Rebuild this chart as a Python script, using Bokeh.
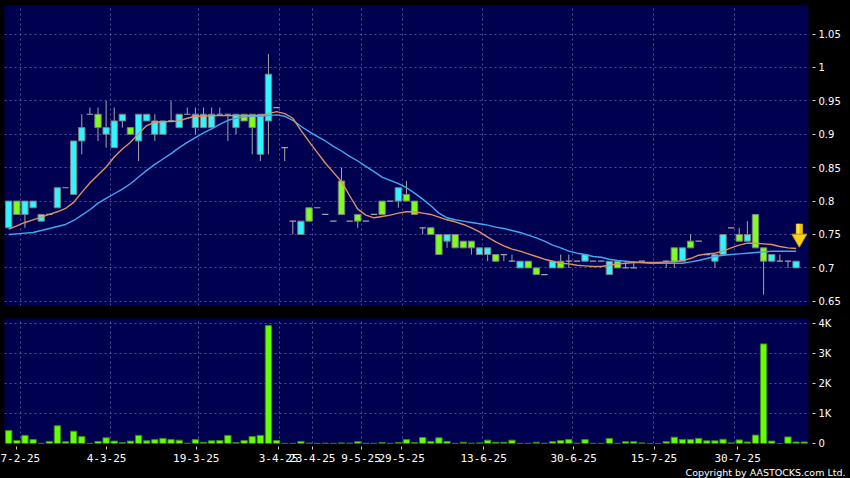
import numpy as np
from bokeh.plotting import figure
from bokeh.layouts import column
from bokeh.models import FixedTicker, Range1d, Title
from bokeh.embed import file_html
from bokeh.resources import INLINE

# ---------------- data ----------------
opens = [0.76, 0.80, 0.78, 0.79, 0.77, 0.78, 0.79, 0.82, 0.81, 0.89,
         0.93, 0.93, 0.90, 0.88, 0.92, 0.91, 0.89, 0.92, 0.90, 0.90,
         0.92, 0.91, 0.93, 0.91, 0.91, 0.91, 0.93, 0.93, 0.91, 0.93,
         0.93, 0.87, 0.92, 0.94, 0.88, 0.77, 0.75, 0.79, 0.79, 0.78,
         0.77, 0.83, 0.77, 0.78, 0.77, 0.78, 0.80, 0.80, 0.80, 0.81,
         0.80, 0.76, 0.76, 0.75, 0.74, 0.75, 0.74, 0.74, 0.72, 0.72,
         0.72, 0.72, 0.71, 0.70, 0.71, 0.70, 0.69, 0.70, 0.71, 0.71,
         0.71, 0.71, 0.71, 0.71, 0.69, 0.71, 0.70, 0.70, 0.71, None,
         None, 0.71, 0.73, 0.71, 0.74, 0.74, 0.72, 0.71, 0.72, 0.76,
         0.75, 0.74, 0.78, 0.73, 0.71, 0.71, 0.71, 0.70, None]
highs = [0.80, 0.80, 0.80, 0.80, 0.78, 0.78, 0.82, 0.82, 0.89, 0.93,
         0.94, 0.94, 0.95, 0.94, 0.93, 0.91, 0.93, 0.93, 0.93, 0.92,
         0.95, 0.93, 0.94, 0.94, 0.94, 0.94, 0.94, 0.93, 0.93, 0.93,
         0.93, 0.93, 1.02, 0.94, 0.88, 0.77, 0.77, 0.79, 0.79, 0.78,
         0.77, 0.85, 0.77, 0.78, 0.77, 0.78, 0.80, 0.80, 0.82, 0.83,
         0.80, 0.76, 0.76, 0.75, 0.75, 0.75, 0.74, 0.74, 0.73, 0.73,
         0.72, 0.72, 0.72, 0.71, 0.71, 0.70, 0.69, 0.71, 0.72, 0.72,
         0.71, 0.72, 0.71, 0.71, 0.71, 0.71, 0.71, 0.71, 0.71, None,
         None, 0.71, 0.73, 0.73, 0.75, 0.74, 0.72, 0.72, 0.75, 0.76,
         0.76, 0.77, 0.78, 0.73, 0.72, 0.72, 0.71, 0.71, None]
lows = [0.76, 0.78, 0.76, 0.79, 0.77, 0.78, 0.79, 0.82, 0.81, 0.87,
        0.93, 0.89, 0.88, 0.88, 0.91, 0.90, 0.86, 0.92, 0.89, 0.90,
        0.92, 0.91, 0.93, 0.90, 0.91, 0.91, 0.93, 0.89, 0.90, 0.92,
        0.87, 0.86, 0.87, 0.94, 0.86, 0.75, 0.75, 0.77, 0.79, 0.78,
        0.77, 0.78, 0.77, 0.76, 0.77, 0.78, 0.78, 0.80, 0.79, 0.80,
        0.78, 0.75, 0.75, 0.72, 0.73, 0.73, 0.73, 0.72, 0.72, 0.71,
        0.71, 0.71, 0.71, 0.70, 0.70, 0.69, 0.69, 0.70, 0.70, 0.70,
        0.71, 0.71, 0.71, 0.71, 0.69, 0.70, 0.70, 0.70, 0.71, None,
        None, 0.70, 0.70, 0.71, 0.73, 0.74, 0.72, 0.70, 0.72, 0.76,
        0.74, 0.74, 0.73, 0.66, 0.71, 0.71, 0.70, 0.70, None]
closes = [0.80, 0.78, 0.80, 0.80, 0.78, 0.78, 0.82, 0.82, 0.89, 0.91,
          0.93, 0.91, 0.91, 0.92, 0.93, 0.90, 0.93, 0.93, 0.92, 0.92,
          0.92, 0.93, 0.93, 0.93, 0.93, 0.93, 0.93, 0.93, 0.93, 0.92,
          0.91, 0.93, 0.99, 0.94, 0.88, 0.77, 0.77, 0.77, 0.79, 0.78,
          0.77, 0.78, 0.77, 0.77, 0.77, 0.78, 0.78, 0.80, 0.82, 0.80,
          0.78, 0.76, 0.75, 0.72, 0.75, 0.73, 0.73, 0.73, 0.73, 0.73,
          0.71, 0.72, 0.71, 0.71, 0.70, 0.69, 0.69, 0.71, 0.70, 0.71,
          0.71, 0.72, 0.71, 0.71, 0.71, 0.70, 0.70, 0.70, 0.71, None,
          None, 0.71, 0.71, 0.73, 0.73, 0.74, 0.72, 0.72, 0.75, 0.76,
          0.74, 0.75, 0.73, 0.71, 0.72, 0.71, 0.71, 0.71, None]
volumes = [430, 100, 270, 130, 5, 70, 590, 60, 410, 230,
           5, 70, 190, 80, 30, 80, 270, 90, 130, 170,
           130, 110, 10, 130, 40, 90, 100, 270, 30, 100,
           230, 270, 3930, 100, 5, 5, 70, 10, 5, 10,
           5, 20, 10, 60, 5, 5, 30, 5, 30, 130,
           30, 200, 70, 190, 70, 5, 40, 10, 20, 110,
           40, 40, 110, 5, 5, 40, 10, 60, 100, 130,
           10, 130, 5, 5, 170, 5, 60, 60, 20, 0,
           0, 60, 210, 130, 130, 170, 90, 90, 140, 20,
           120, 50, 280, 3320, 80, 0, 220, 50, 50]
ma_short = [0.758, 0.763, 0.768, 0.772, 0.776, 0.780, 0.784, 0.789, 0.798, 0.813,
            0.827, 0.839, 0.851, 0.866, 0.878, 0.888, 0.901, 0.913, 0.918, 0.919,
            0.919, 0.920, 0.924, 0.927, 0.927, 0.928, 0.928, 0.928, 0.928, 0.928,
            0.928, 0.928, 0.931, 0.934, 0.931, 0.924, 0.906, 0.889, 0.873, 0.857,
            0.843, 0.829, 0.808, 0.788, 0.779, 0.775, 0.777, 0.779, 0.782, 0.784,
            0.784, 0.782, 0.780, 0.776, 0.772, 0.769, 0.765, 0.760, 0.754, 0.746,
            0.739, 0.733, 0.728, 0.725, 0.721, 0.717, 0.713, 0.710, 0.707, 0.706,
            0.704, 0.703, 0.702, 0.702, 0.704, 0.706, 0.707, 0.708, 0.708, 0.708,
            0.708, 0.709, 0.709, 0.711, 0.714, 0.719, 0.721, 0.722, 0.725, 0.730,
            0.734, 0.737, 0.737, 0.736, 0.735, 0.732, 0.730, 0.729, None]
ma_long = [0.750, 0.751, 0.752, 0.753, 0.756, 0.759, 0.762, 0.765, 0.771, 0.779,
           0.787, 0.797, 0.804, 0.811, 0.818, 0.826, 0.836, 0.846, 0.855, 0.863,
           0.871, 0.880, 0.888, 0.895, 0.902, 0.908, 0.915, 0.921, 0.924, 0.926,
           0.927, 0.927, 0.928, 0.929, 0.927, 0.921, 0.912, 0.904, 0.897, 0.890,
           0.882, 0.875, 0.867, 0.860, 0.852, 0.844, 0.836, 0.831, 0.826, 0.820,
           0.812, 0.803, 0.793, 0.782, 0.775, 0.772, 0.770, 0.768, 0.766, 0.764,
           0.761, 0.759, 0.756, 0.753, 0.749, 0.745, 0.740, 0.734, 0.730, 0.725,
           0.722, 0.720, 0.717, 0.716, 0.713, 0.711, 0.710, 0.709, 0.708, 0.707,
           0.707, 0.707, 0.707, 0.707, 0.709, 0.711, 0.714, 0.717, 0.719, 0.720,
           0.721, 0.722, 0.723, 0.724, 0.725, 0.725, 0.725, 0.725, None]

date_tick_pos = [0.96, 12.05, 23.1, 33.25, 37.4, 43.4, 48.4, 58.5, 69.6, 79.5, 89.8]
date_grid_pos = [1.5, 12.5, 23.4, 33.4, 37.4, 43.4, 48.5, 58.4, 69.4, 79.4, 89.4]
date_tick_labels = ["7-2-25", "4-3-25", "19-3-25", "3-4-25", "23-4-25", "9-5-25",
                    "29-5-25", "13-6-25", "30-6-25", "15-7-25", "30-7-25"]
price_ticks = [0.65, 0.70, 0.75, 0.80, 0.85, 0.90, 0.95, 1.00, 1.05]
price_tick_labels = ["0.65", "0.7", "0.75", "0.8", "0.85", "0.9", "0.95", "1", "1.05"]
vol_ticks = [0, 1000, 2000, 3000, 4000]
vol_tick_labels = ["0", "1K", "2K", "3K", "4K"]
arrow_index = 97.4
arrow_top = 0.766
arrow_tip = 0.731
copyright_text = "Copyright by AASTOCKS.com Ltd."

# ---------------- styling ----------------
BG = "#000050"
BORDER = "#000000"
CYAN = "#30F4FF"
GREEN = "#7CFF1E"
VOLGREEN = "#66FF00"
OUTLINE = "#7d7d7d"
WICK = "#a6a6a6"
GRID = "#6a6ab0"
ORANGE = "#E0905E"
BLUE = "#40A8F0"
FONT = "DejaVu Sans"
MONO = "DejaVu Sans Mono"
BODY_W = 0.78
PRICE_LO, PRICE_HI = 0.6437, 1.0928
FRAME_W, PRICE_H, VOL_H = 804, 300, 125

n = len(volumes)
idx = np.arange(n)

up_x, up_t, up_b = [], [], []
dn_x, dn_t, dn_b = [], [], []
dj_x0, dj_x1, dj_y = [], [], []
wk_x, wk_lo, wk_hi = [], [], []
for i in range(n):
    o, h, l, c = opens[i], highs[i], lows[i], closes[i]
    if o is None:
        continue
    wk_x.append(i); wk_lo.append(l); wk_hi.append(h)
    if c > o:
        up_x.append(i); up_t.append(c); up_b.append(o)
    elif c < o:
        dn_x.append(i); dn_t.append(o); dn_b.append(c)
    else:
        dj_x0.append(i - BODY_W / 2); dj_x1.append(i + BODY_W / 2); dj_y.append(o)

x_range = Range1d(-0.52, n - 0.47)

def style(p):
    p.background_fill_color = BG
    p.border_fill_color = BORDER
    p.outline_line_color = None
    p.yaxis.axis_line_color = None
    p.yaxis.major_tick_line_color = "#d0d0d0"
    p.yaxis.major_tick_in = -4
    p.yaxis.major_tick_out = 7
    p.yaxis.minor_tick_line_color = None
    p.yaxis.major_label_text_color = "#ffffff"
    p.yaxis.major_label_text_font = FONT
    p.yaxis.major_label_text_font_size = "10px"
    p.yaxis.major_label_standoff = 3
    for g in (p.xgrid, p.ygrid):
        g.grid_line_color = GRID
        g.grid_line_dash = "2 3"
        g.grid_line_alpha = 0.75
        g.grid_line_width = 1

# ---------------- price panel ----------------
p1 = figure(frame_width=FRAME_W, frame_height=PRICE_H, x_range=x_range,
            y_range=Range1d(PRICE_LO, PRICE_HI), x_axis_location=None,
            y_axis_location="right", toolbar_location=None, tools="",
            output_backend="svg", min_border_left=4, min_border_right=42,
            min_border_top=5, min_border_bottom=7)
style(p1)
p1.yaxis.ticker = FixedTicker(ticks=price_ticks)
p1.yaxis.major_label_overrides = {t: s for t, s in zip(price_ticks, price_tick_labels)}
p1.ygrid.ticker = FixedTicker(ticks=price_ticks)
p1.xgrid.ticker = FixedTicker(ticks=date_grid_pos)

p1.segment(x0=wk_x, y0=wk_lo, x1=wk_x, y1=wk_hi, line_color=WICK, line_width=1)
p1.segment(x0=dj_x0, y0=dj_y, x1=dj_x1, y1=dj_y, line_color=WICK, line_width=1.2)
p1.vbar(x=up_x, top=up_t, bottom=up_b, width=BODY_W, fill_color=CYAN,
        line_color=OUTLINE, line_width=1)
p1.vbar(x=dn_x, top=dn_t, bottom=dn_b, width=BODY_W, fill_color=GREEN,
        line_color=OUTLINE, line_width=1)
ma_s = [np.nan if v is None else v for v in ma_short]
ma_l = [np.nan if v is None else v for v in ma_long]
p1.line(idx, ma_l, line_color=BLUE, line_width=1.4)
p1.line(idx, ma_s, line_color=ORANGE, line_width=1.4)

# yellow marker arrow
px_per_unit = PRICE_H / (PRICE_HI - PRICE_LO)
head_size = 15
head_center = arrow_tip + (head_size / 2 * np.sqrt(3) * 2 / 3) / px_per_unit
head_base = head_center + (head_size / 2 * np.sqrt(3) / 3) / px_per_unit
p1.segment(x0=[arrow_index], y0=[arrow_top], x1=[arrow_index], y1=[head_base - 0.002],
           line_color="#F2C200", line_width=7)
p1.segment(x0=[arrow_index - 0.12], y0=[arrow_top], x1=[arrow_index - 0.12], y1=[head_base],
           line_color="#FFE97A", line_width=2)
p1.scatter(x=[arrow_index], y=[head_center], marker="inverted_triangle",
           size=head_size, fill_color="#FFD21A", line_color="#C99400", line_width=1)

# ---------------- volume panel ----------------
p2 = figure(frame_width=FRAME_W, frame_height=VOL_H, x_range=x_range,
            y_range=Range1d(0, 4167), y_axis_location="right",
            toolbar_location=None, tools="", output_backend="svg",
            min_border_left=4, min_border_right=42, min_border_top=6,
            min_border_bottom=35)
style(p2)
p2.yaxis.ticker = FixedTicker(ticks=vol_ticks)
p2.yaxis.major_label_overrides = {t: s for t, s in zip(vol_ticks, vol_tick_labels)}
p2.ygrid.ticker = FixedTicker(ticks=vol_ticks[1:])
p2.xaxis.ticker = FixedTicker(ticks=date_tick_pos)
p2.xaxis.major_label_overrides = {t: s for t, s in zip(date_tick_pos, date_tick_labels)}
p2.xgrid.ticker = FixedTicker(ticks=date_grid_pos)
p2.xaxis.axis_line_color = None
p2.xaxis.major_tick_line_color = "#d0d0d0"
p2.xaxis.major_tick_in = -3
p2.xaxis.major_tick_out = 6
p2.xaxis.minor_tick_line_color = None
p2.xaxis.major_label_text_color = "#ffffff"
p2.xaxis.major_label_text_font = MONO
p2.xaxis.major_label_text_font_size = "11px"
p2.xaxis.major_label_standoff = 4

p2.vbar(x=idx, top=volumes, bottom=0, width=BODY_W, fill_color=VOLGREEN,
        line_color="#3d8a10", line_width=1)

p2.add_layout(Title(text=copyright_text, align="right", offset=-37, standoff=0,
                    text_color="#ffffff", text_font=FONT, text_font_size="9.5px",
                    text_font_style="normal"), "below")

layout = column(p1, p2, spacing=0, styles={"background-color": "#000000"})
open("out.html", "w").write(file_html(layout, INLINE))
